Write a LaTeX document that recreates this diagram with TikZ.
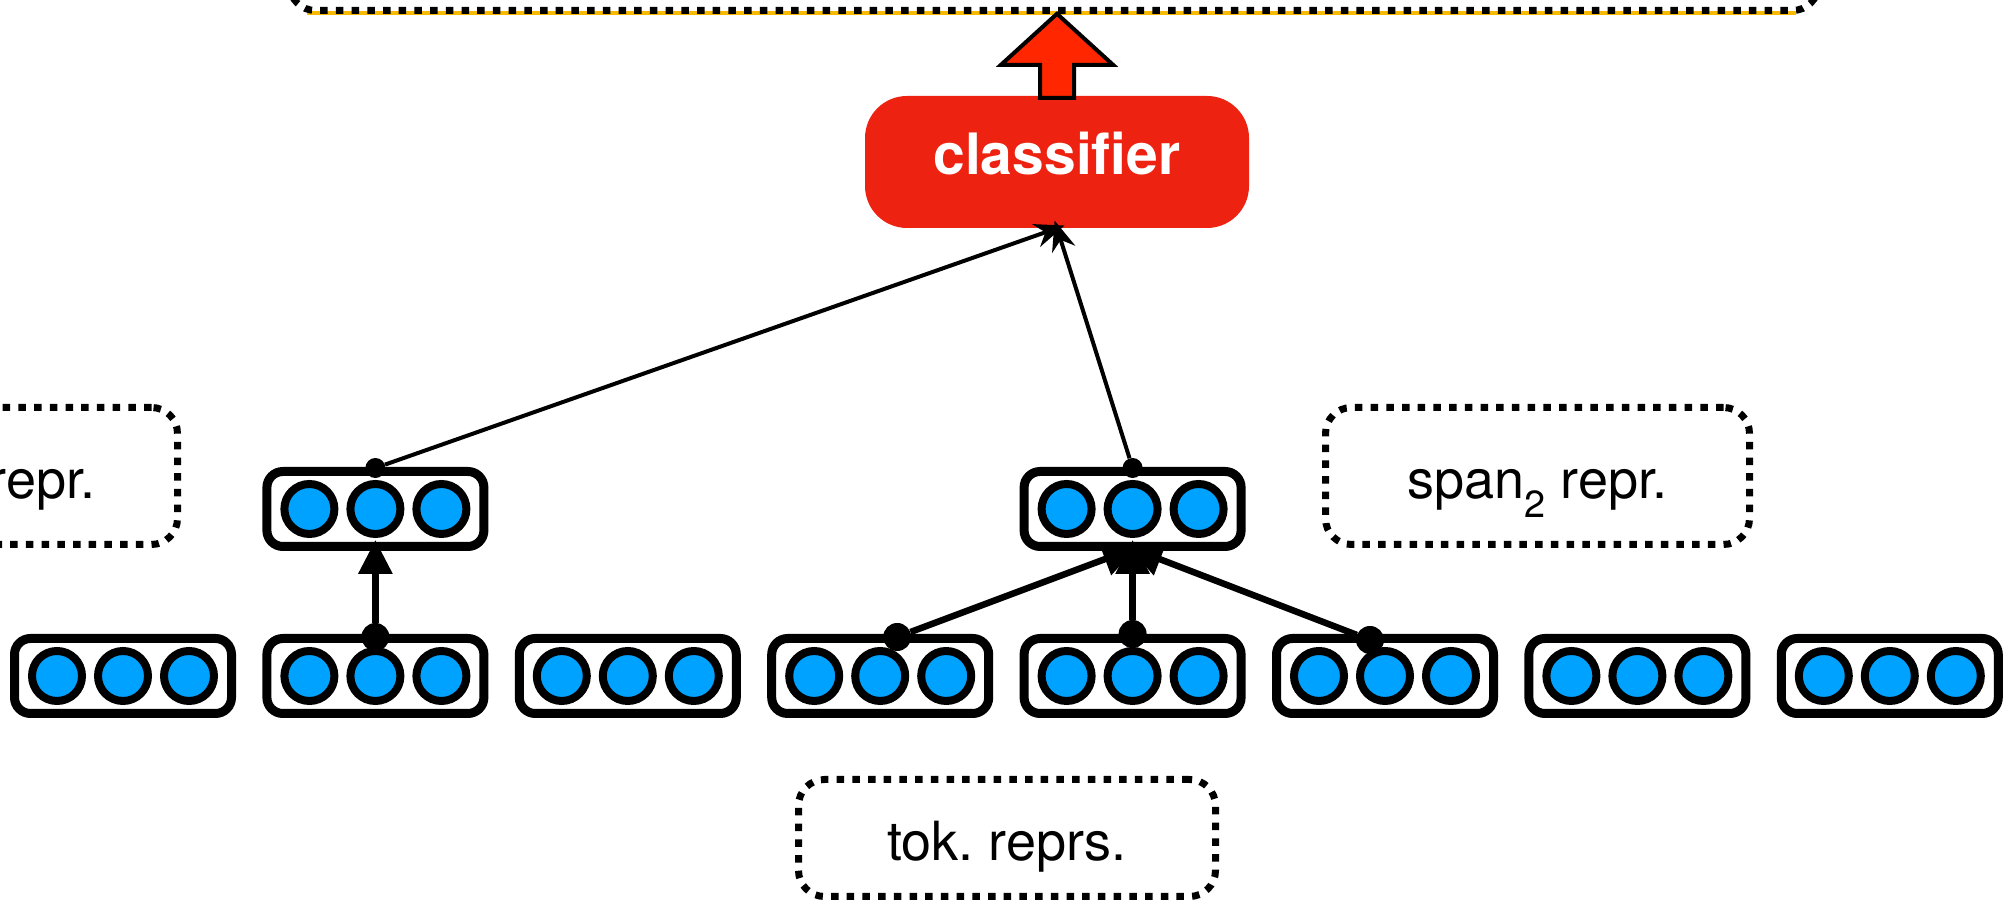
\documentclass[tikz,border=0pt]{standalone}
\usepackage{fontspec}
\setmainfont{TeX Gyre Heros}
\usetikzlibrary{positioning, chains, calc, arrows.meta}
\frenchspacing

\definecolor{unitblue}{HTML}{00A2FF}
\definecolor{clsred}{HTML}{EE2211}
\definecolor{outred}{HTML}{FF2600}
\definecolor{outyellow}{HTML}{F8BA00}

\begin{document}
\begin{tikzpicture}[x=1pt, y=1pt,
    vec/.style={draw, line width=9pt, rounded corners=16pt, inner sep=0pt,
      minimum width=217pt, minimum height=75pt,
      path picture={\foreach \d in {-66,0,66}
        \draw[line width=8pt, fill=unitblue]
          ([xshift=\d pt]path picture bounding box.center) circle (25pt);}},
    lbl/.style={draw, line width=7pt, dash pattern=on 7.5pt off 8.2pt,
      rounded corners=26pt, font=\fontsize{54}{60}\selectfont,
      text height=51pt, text depth=5pt},
    cls/.style={fill=clsred, text=white, rounded corners=42pt,
      minimum width=384pt, minimum height=132pt,
      font=\fontsize{57}{66}\selectfont\bfseries,
      text height=41pt, text depth=15pt},
    dot/.style={circle, fill, inner sep=0pt, minimum size=28pt},
    up/.style={line width=6.5pt, -{Triangle[length=34pt, width=33pt]}, shorten >=-11pt},
    feed/.style={line width=4pt, -{Stealth[length=30pt, width=24pt]}, shorten >=-8pt},
    bigup/.style={line width=4pt, fill=outred, line join=miter},
    node distance=83pt and 26.4pt, start chain]

  \useasboundingbox (0,0) rectangle (2006,909);
  \clip (0,0) rectangle (2006,909);

  \fill[outyellow] (307,894) rectangle (1796,898);
  \node[lbl, minimum width=1529pt, minimum height=200pt, anchor=south] (out) at (1054,895) {};

  \node[cls] (cls) at (1057,747) {classifier};
  \draw[bigup] let \p1 = (cls.north) in
    (\x1-17pt,\y1-2pt) -- (\x1-17pt,\y1+31pt) -- (\x1-56pt,\y1+31pt) -- (\x1,\y1+82pt)
    -- (\x1+56pt,\y1+31pt) -- (\x1+17pt,\y1+31pt) -- (\x1+17pt,\y1-2pt) -- cycle;

  \node[vec, on chain] (t1) at (123,233) {};
  \node[vec, on chain] (t2) {};
  \node[vec, on chain] (t3) {};
  \node[vec, on chain] (t4) {};
  \node[vec, on chain] (t5) {};
  \node[vec, on chain] (t6) {};
  \node[vec, on chain] (t7) {};
  \node[vec, on chain] (t8) {};

  \node[vec, above=of t2] (s1) {};
  \node[vec, above=of t5] (s2) {};

  \node[lbl, minimum width=424pt, minimum height=137pt] (l1) at (-34.5,433) {span\textsubscript{1} repr.};
  \node[lbl, minimum width=424pt, minimum height=137pt] (l2) at (1537.5,433) {span\textsubscript{2} repr.};
  \node[lbl, minimum width=417pt, minimum height=117pt] (lt) at (1007,71) {tok. reprs.};

  \node[dot] (d2) at ([yshift=-3pt]t2.north) {};
  \node[dot] (d4) at ($(t4.north)+(17,-3)$) {};
  \node[dot] (d5) at (t5.north) {};
  \node[dot] (d6) at ($(t6.north)+(-15,-6)$) {};
  \node[dot, minimum size=20pt] (e1) at ([yshift=-1pt]s1.north) {};
  \node[dot, minimum size=20pt] (e2) at ([yshift=-1pt]s2.north) {};

  \draw[up] (d2) -- (s1.south);
  \draw[up] (d4) -- ([xshift=-6pt]s2.south);
  \draw[up] (d5) -- (s2.south);
  \draw[up] (d6) -- ([xshift=6pt]s2.south);
  \draw[feed] (e1) -- (cls.south);
  \draw[feed] (e2) -- (cls.south);
\end{tikzpicture}
\end{document}
